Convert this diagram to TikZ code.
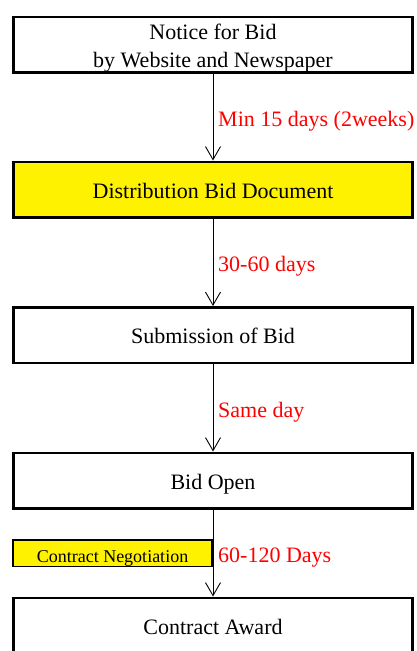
\documentclass[tikz,border=0pt]{standalone}
\usepackage{fontspec}
\setmainfont{Liberation Serif}
\usetikzlibrary{arrows.meta}
\begin{document}
\begin{tikzpicture}[x=1pt,y=-1pt,
  stepbox/.style={draw=black,line width=2.5pt,minimum width=399pt,minimum height=55.5pt,inner sep=0pt,font=\fontsize{22}{27.5}\selectfont,align=center,text height=17.5pt,text depth=0pt},
  smallbox/.style={draw=black,line width=1.5pt,fill=yellow,minimum width=199pt,minimum height=26.5pt,inner sep=0pt,font=\fontsize{18}{20}\selectfont,text height=18.6pt,text depth=0pt},
  lbl/.style={anchor=base west,text=red,inner sep=0pt,font=\fontsize{22}{26}\selectfont},
  conn/.style={draw=black,line width=0.9pt,-{Straight Barb[length=13pt,width=15pt,line width=0.9pt]}}]
\useasboundingbox (0,0) rectangle (416,651);
\clip (0,0) rectangle (416,651);
\node[stepbox,text height=45pt] (b1) at (213,44.5) {Notice for Bid\\by Website and Newspaper};
\node[stepbox,fill=yellow] (b2) at (213,189.5) {Distribution Bid Document};
\node[stepbox] (b3) at (213,335) {Submission of Bid};
\node[stepbox] (b4) at (213,480.5) {Bid Open};
\node[stepbox] (b5) at (213,625.5) {Contract Award};
\draw[conn] (b1.south) -- (b2.north);
\draw[conn] (b2.south) -- (b3.north);
\draw[conn] (b3.south) -- (b4.north);
\draw[conn] (b4.south) -- (b5.north);
\node[smallbox] (neg) at (112.5,553) {Contract Negotiation};
\node[lbl] (l1) at (218,126) {Min 15 days (2weeks)};
\node[lbl] (l2) at (218,271.5) {30-60 days};
\node[lbl] (l3) at (218,417) {Same day};
\node[lbl] (l4) at (218,562.3) {60-120 Days};
\end{tikzpicture}
\end{document}
